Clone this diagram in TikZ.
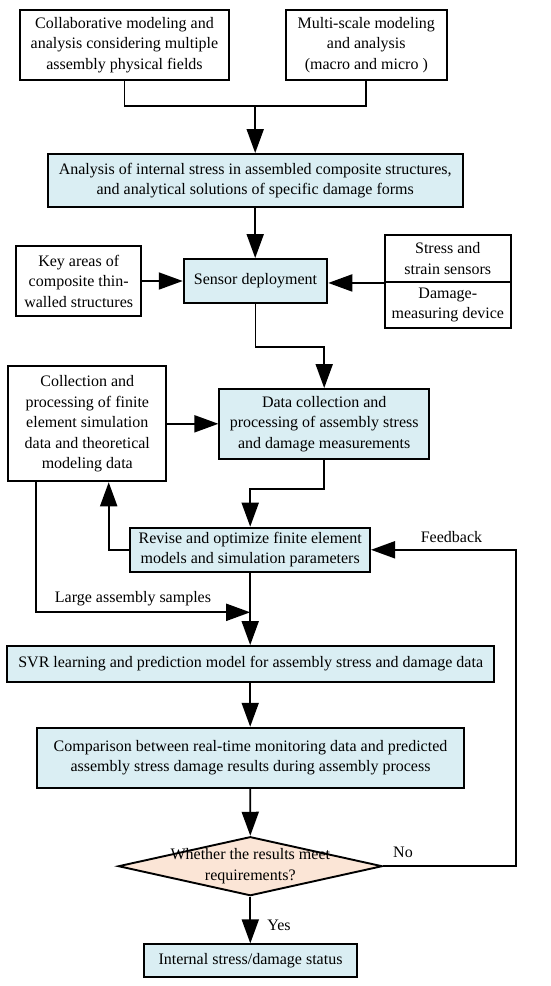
\documentclass[tikz,border=0pt]{standalone}
\usepackage{fontspec}
\setmainfont{Liberation Serif}
\usetikzlibrary{arrows.meta,shapes.geometric}
\definecolor{boxblue}{HTML}{DAEEF3}
\definecolor{boxpeach}{HTML}{FBE5D6}

\begin{document}
\begin{tikzpicture}[
        x = 1pt, y = -1pt,
        line join=miter,
        plainbox/.style = {draw, line width=1.9pt, fill=white, align=center, inner sep=0pt, font=\fontsize{16}{20.5}\selectfont},
        bluebox/.style = {plainbox, fill=boxblue},
        decisionstyle/.style = {diamond, draw, line width=1.9pt, fill=boxpeach, inner sep=0pt},
        linestyle/.style = {line width=1.9pt},
        arrowstyle/.style = {linestyle, -{Triangle[length=24pt,width=17pt]}},
        labelstyle/.style = {font=\fontsize{16}{20.5}\selectfont, inner sep=0pt, align=center}
    ]
        \useasboundingbox (0,0) rectangle (550,986);

        % boxes
        \node[plainbox, minimum width=209pt, minimum height=70pt] (colmod) at (124.5,45) {Collaborative modeling and\\analysis considering multiple\\assembly physical fields};
        \node[plainbox, minimum width=160.7pt, minimum height=70pt] (multiscale) at (366.3,45) {Multi-scale modeling\\and analysis\\(macro and micro )};
        \node[bluebox, minimum width=415pt, minimum height=53pt] (analysis) at (255.2,180.5) {Analysis of internal stress in assembled composite structures,\\and analytical solutions of specific damage forms};
        \node[bluebox, minimum width=143.6pt, minimum height=44pt] (sensor) at (255.5,281) {Sensor deployment};
        \node[plainbox, minimum width=125.3pt, minimum height=70pt] (keyareas) at (78.7,281) {Key areas of\\composite thin-\\walled structures};
        \node[plainbox, minimum width=125.7pt, minimum height=47pt] (stressbox) at (447.8,258.5) {Stress and\\strain sensors};
        \node[plainbox, minimum width=125.7pt, minimum height=46pt] (damagebox) at (447.8,305) {Damage-\\measuring device};
        \node[bluebox, minimum width=209.7pt, minimum height=70pt] (data) at (324.2,424) {Data collection and\\processing of assembly stress\\and damage measurements};
        \node[plainbox, minimum width=158pt, minimum height=115pt] (collect) at (87.3,423.8) {Collection and\\processing of finite\\element simulation\\data and theoretical\\modeling data};
        \node[bluebox, minimum width=239.7pt, minimum height=44.3pt] (revise) at (250.2,549.8) {Revise and optimize finite element\\models and simulation parameters};
        \node[bluebox, minimum width=486.7pt, minimum height=36pt] (svr) at (250.7,664) {SVR learning and prediction model for assembly stress and damage data};
        \node[bluebox, minimum width=427.6pt, minimum height=60pt] (compare) at (250.5,757.7) {Comparison between real-time monitoring data and predicted\\assembly stress damage results during assembly process};
        \node[decisionstyle, minimum width=264pt, minimum height=59pt] (decision) at (250.3,866.2) {};
        \node[labelstyle] (decisiontext) at (decision.center) {Whether the results meet\\requirements?};
        \node[bluebox, minimum width=212.4pt, minimum height=32.4pt] (internal) at (250.5,960.5) {Internal stress/damage status};

        % bend points
        \coordinate (join) at (255.2,106);
        \coordinate (bendsd) at (255.5,347);
        \coordinate (benddr) at (324.2,489.3);
        \coordinate (backup) at (108.7,549.8);
        \coordinate (samples) at (35.7,612.3);
        \coordinate (fbcorner) at (516,866.2);

        % connectors
        \draw[linestyle] (colmod.south) |- (join) -| (multiscale.south);
        \draw[arrowstyle] (join) -- (analysis.north);
        \draw[arrowstyle] (analysis.south) -- (analysis.south |- sensor.north);
        \draw[arrowstyle] (keyareas.east) -- (sensor.west);
        \draw[arrowstyle] (stressbox.south west) -- (stressbox.south west -| sensor.east);
        \draw[arrowstyle] (sensor.south) -- (bendsd) -| (data.north);
        \draw[arrowstyle] (collect.east) -- (collect.east -| data.west);
        \draw[arrowstyle] (data.south) -- (benddr) -| (revise.north);
        \draw[arrowstyle] (revise.west) -- (backup) -- (backup |- collect.south);
        \draw[arrowstyle] (samples |- collect.south) -- (samples) -- (samples -| revise.south);
        \draw[arrowstyle] (revise.south) -- (revise.south |- svr.north);
        \draw[arrowstyle] (revise.south |- svr.south) -- (revise.south |- compare.north);
        \draw[arrowstyle] (revise.south |- compare.south) -- (decision.north);
        \draw[arrowstyle] (decision.south) -- (decision.south |- internal.north);
        \draw[arrowstyle] (decision.east) -- (fbcorner) |- (revise.east);

        % labels
        \node[labelstyle] (sampleslabel) at (133,598.3) {Large assembly samples};
        \node[labelstyle] (feedbacklabel) at (451.5,536.7) {Feedback};
        \node[labelstyle] (nolabel) at (403,852.7) {No};
        \node[labelstyle] (yeslabel) at (279,925.7) {Yes};

    \end{tikzpicture}
\end{document}
